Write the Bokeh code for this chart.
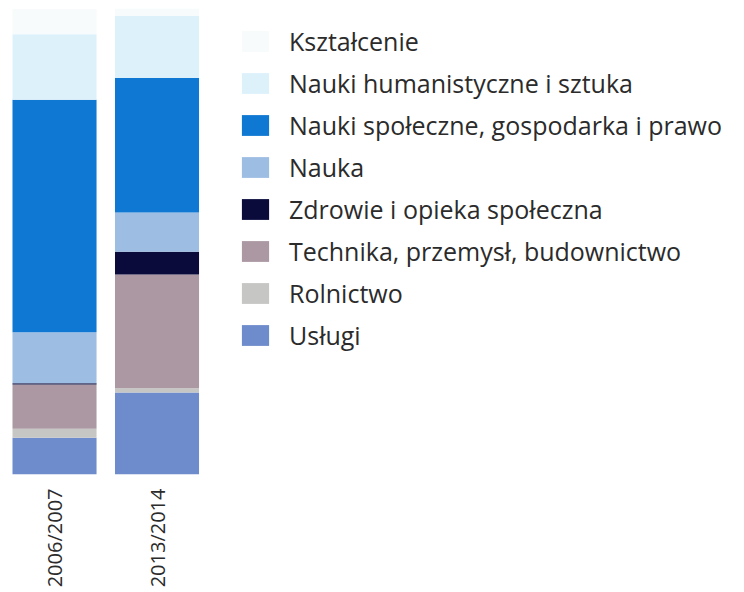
import math
from bokeh.plotting import figure
from bokeh.models import Range1d, Legend, LegendItem, ColumnDataSource, FixedTicker
from bokeh.embed import file_html
from bokeh.resources import INLINE

years = ["2006/2007", "2013/2014"]

# stacking order: bottom -> top
fields = ["Usługi", "Rolnictwo", "Technika, przemysł, budownictwo",
          "Zdrowie i opieka społeczna", "Nauka",
          "Nauki społeczne, gospodarka i prawo",
          "Nauki humanistyczne i sztuka", "Kształcenie"]
uslugi = [7.9, 17.6]
rolnictwo = [1.9, 0.9]
technika = [9.5, 24.4]
zdrowie = [0.3, 4.9]
nauka = [10.9, 8.4]
spoleczne = [49.9, 28.9]
humanistyczne = [14.1, 13.3]
ksztalcenie = [5.4, 1.6]

colors = ["#6e8ccb", "#c6c6c4", "#ab98a3", "#0b0b3b", "#9dbde3",
          "#0f78d2", "#ddf1fb", "#f8fbfc"]

keys = ["u", "r", "t", "z", "n", "s", "h", "k"]
xpos = list(range(len(years)))
data = dict(x=xpos, u=uslugi, r=rolnictwo, t=technika, z=zdrowie,
            n=nauka, s=spoleczne, h=humanistyczne, k=ksztalcenie)
src = ColumnDataSource(data)

W, H = 740, 590
p = figure(width=W, height=H, output_backend="svg", toolbar_location=None,
           x_range=Range1d(-0.527, -0.527 + W / 102.5),
           y_range=Range1d(0, 100), y_axis_location=None,
           min_border_left=0, min_border_top=8, min_border_right=0,
           min_border_bottom=H - 8 - 467)
p.outline_line_color = None
p.xgrid.visible = False
p.ygrid.visible = False

rs = p.vbar_stack(keys, x="x", width=0.82, color=colors, line_color=None,
                  source=src)

ax = p.xaxis[0]
ax.ticker = FixedTicker(ticks=xpos)
ax.major_label_overrides = {i: y for i, y in zip(xpos, years)}
ax.axis_line_color = None
ax.major_tick_line_color = None
ax.minor_tick_line_color = None
ax.major_tick_out = 0
ax.major_tick_in = 0
ax.major_label_standoff = 14
ax.major_label_orientation = math.pi / 2
ax.major_label_text_font = "Open Sans"
ax.major_label_text_font_size = "20px"
ax.major_label_text_color = "#2b2b2b"

items = [LegendItem(label=fields[i], renderers=[rs[i]]) for i in range(7, -1, -1)]
legend = Legend(items=items, location=(238, 122), orientation="vertical")
legend.margin = 0
legend.padding = 0
legend.border_line_color = None
legend.background_fill_alpha = 0
legend.glyph_width = 34
legend.glyph_height = 26
legend.label_height = 26
legend.spacing = 8
legend.label_standoff = 17
legend.label_text_font = "Open Sans"
legend.label_text_font_size = "25px"
legend.label_text_color = "#2b2b2b"
legend.label_text_baseline = "middle"
p.add_layout(legend, "center")

open("out.html", "w").write(file_html(p, INLINE))
